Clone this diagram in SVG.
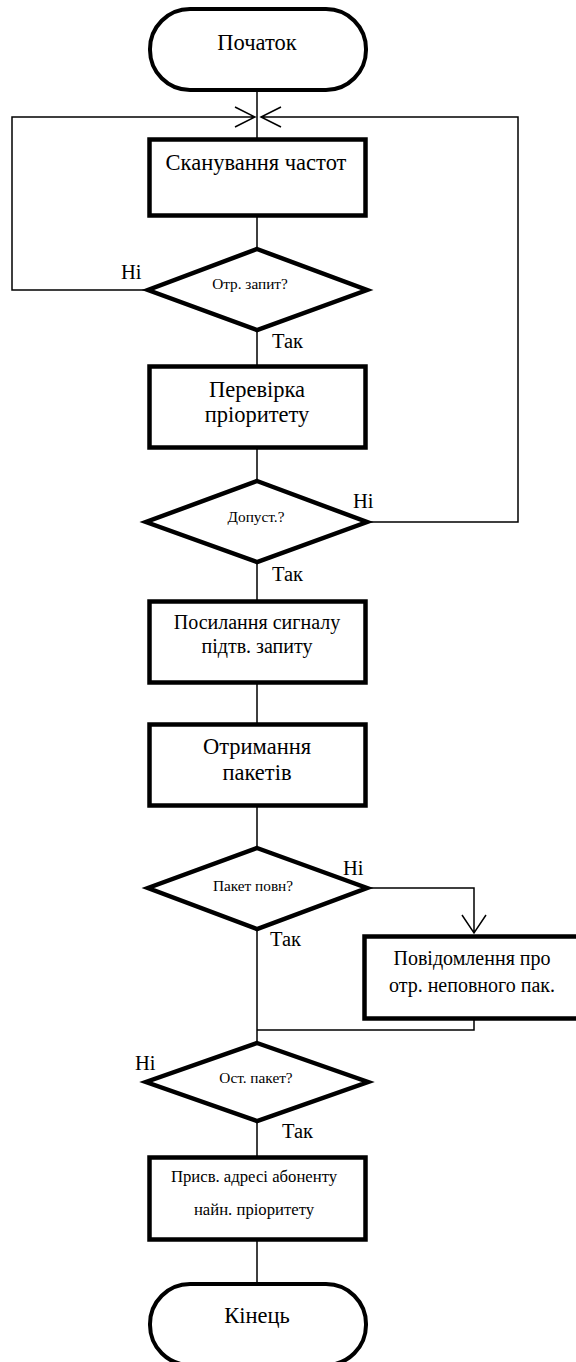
<svg xmlns="http://www.w3.org/2000/svg" width="576" height="1362" viewBox="0 0 576 1362">
<style>
.box{fill:#fff;stroke:#000;stroke-width:4.5}
.term{fill:#fff;stroke:#000;stroke-width:4}
.dia{fill:#fff;stroke:#000;stroke-width:4.5;stroke-linejoin:miter}
.ln{fill:none;stroke:#000;stroke-width:1.5}
.t{font-size:22.5px;text-anchor:middle}
.m{font-size:20px;text-anchor:middle}
.s{font-size:15.3px;text-anchor:middle}
.l{font-size:20.5px}
</style>
<g font-family="'Liberation Serif', serif" fill="#000">
<g id="connectors">
<path class="ln" d="M257 90V139M257 216V248M257 330V365M257 449V480M257 563V600M257 684V723M257 807V847M257 930V1042M257 1122V1156M257 1241V1284"/>
<path class="ln" d="M148 290H12V117H255M235 107L255 117L235 127"/>
<path class="ln" d="M368 522H518V117H261M281 107L261 117L281 127"/>
<path class="ln" d="M368 888H474V933M462 915L474 933L486 915"/>
<path class="ln" d="M474 1019V1030H257"/>
<text class="l" x="121" y="279">Ні</text>
<text class="l" x="272" y="348">Так</text>
<text class="l" x="353" y="508">Ні</text>
<text class="l" x="272" y="581">Так</text>
<text class="l" x="343" y="875">Ні</text>
<text class="l" x="270" y="946">Так</text>
<text class="l" x="135" y="1070">Ні</text>
<text class="l" x="282" y="1138">Так</text>
</g>
<g id="start">
<rect class="term" x="150" y="9" width="216" height="81" rx="40" ry="40"/>
<text class="t" x="257" y="50">Початок</text>
</g>
<g id="scan">
<rect class="box" x="149.5" y="139.5" width="216" height="76"/>
<text class="t" x="256" y="170">Сканування частот</text>
</g>
<g id="d1">
<polygon class="dia" points="257,249 367,290 257,330 148,290"/>
<text class="s" x="250" y="289">Отр. запит?</text>
</g>
<g id="prio">
<rect class="box" x="149.5" y="366.5" width="216" height="81"/>
<text class="t" x="257" y="397">Перевірка</text>
<text class="t" x="257" y="422">пріоритету</text>
</g>
<g id="d2">
<polygon class="dia" points="257,481 367,522 257,562 146,522"/>
<text class="s" x="256" y="522">Допуст.?</text>
</g>
<g id="send">
<rect class="box" x="149.5" y="601.5" width="216" height="81"/>
<text class="m" x="257" y="629">Посилання сигналу</text>
<text class="m" x="257" y="653">підтв. запиту</text>
</g>
<g id="recv">
<rect class="box" x="149.5" y="724.5" width="216" height="81"/>
<text class="t" x="257" y="754">Отримання</text>
<text class="t" x="257" y="780">пакетів</text>
</g>
<g id="d3">
<polygon class="dia" points="257,848 367,888 257,929 148,888"/>
<text class="s" x="253" y="891">Пакет повн?</text>
</g>
<g id="msg">
<rect class="box" x="364.5" y="936.5" width="216" height="82"/>
<text class="m" x="472" y="965">Повідомлення про</text>
<text class="m" x="472" y="992">отр. неповного пак.</text>
</g>
<g id="d4">
<polygon class="dia" points="257,1043 368,1082 257,1121 146,1082"/>
<text class="s" x="256" y="1083">Ост. пакет?</text>
</g>
<g id="assign">
<rect class="box" x="149.5" y="1157.5" width="216" height="82"/>
<text class="m" x="254" y="1182" style="font-size:16.7px">Присв. адресі абоненту</text>
<text class="m" x="254" y="1215" style="font-size:16.7px">найн. пріоритету</text>
</g>
<g id="end">
<rect class="term" x="150" y="1284" width="216" height="81" rx="40" ry="40"/>
<text class="t" x="257" y="1323">Кінець</text>
</g>
</g>
</svg>
